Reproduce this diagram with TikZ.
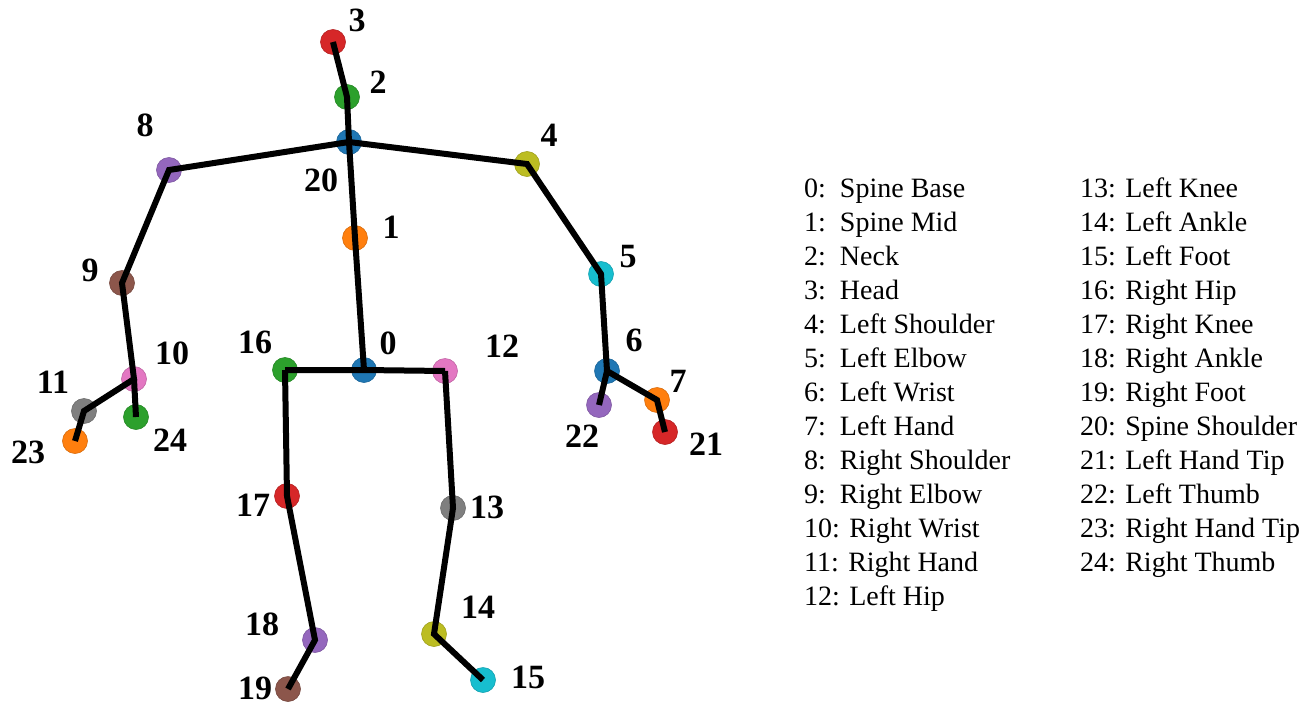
\documentclass[tikz,border=0pt]{standalone}
\usepackage{fontspec}
\setmainfont{Liberation Serif}
\definecolor{tblue}{HTML}{1F77B4}
\definecolor{torange}{HTML}{FF7F0E}
\definecolor{tgreen}{HTML}{2CA02C}
\definecolor{tred}{HTML}{D62728}
\definecolor{tpurple}{HTML}{9467BD}
\definecolor{tbrown}{HTML}{8C564B}
\definecolor{tpink}{HTML}{E377C2}
\definecolor{tgray}{HTML}{7F7F7F}
\definecolor{tolive}{HTML}{BCBD22}
\definecolor{tcyan}{HTML}{17BECF}
\begin{document}
\begin{tikzpicture}[x=1pt,y=-1pt,
  joint/.style={circle,fill=#1,draw=#1!85!black,line width=0.6pt,minimum size=25pt,inner sep=0pt},
  bone/.style={line width=6pt,black,line cap=butt,line join=miter},
  num/.style={font=\fontsize{34}{34}\selectfont\bfseries,inner sep=0pt},
  leg/.style={font=\fontsize{28}{30}\selectfont,anchor=base west,inner sep=0pt}]
\useasboundingbox (0,0) rectangle (1309,704);
% joints
\node[joint=tblue]   (j0)  at (364,370) {};
\node[joint=torange] (j1)  at (355,238) {};
\node[joint=tgreen]  (j2)  at (347,97) {};
\node[joint=tred]    (j3)  at (333,42) {};
\node[joint=tolive]  (j4)  at (527,164) {};
\node[joint=tcyan]   (j5)  at (601,274) {};
\node[joint=tblue]   (j6)  at (607,371) {};
\node[joint=torange] (j7)  at (657,400) {};
\node[joint=tpurple] (j8)  at (169,170) {};
\node[joint=tbrown]  (j9)  at (122,283) {};
\node[joint=tpink]   (j10) at (134,379) {};
\node[joint=tgray]   (j11) at (84,411) {};
\node[joint=tpink]   (j12) at (445,371) {};
\node[joint=tgray]   (j13) at (453,508) {};
\node[joint=tolive]  (j14) at (434,634) {};
\node[joint=tcyan]   (j15) at (483,680) {};
\node[joint=tgreen]  (j16) at (285,370) {};
\node[joint=tred]    (j17) at (287,496) {};
\node[joint=tpurple] (j18) at (315,640) {};
\node[joint=tbrown]  (j19) at (288,689) {};
\node[joint=tblue]   (j20) at (349,142) {};
\node[joint=tred]    (j21) at (665,432) {};
\node[joint=tpurple] (j22) at (599,405) {};
\node[joint=torange] (j23) at (75,441) {};
\node[joint=tgreen]  (j24) at (136,417) {};
% bones
\draw[bone] (j3.center) -- (j2.center) -- (j20.center) -- (j1.center) -- (j0.center);
\draw[bone] (j20.center) -- (j8.center) -- (j9.center) -- (j10.center) -- (j11.center) -- (j23.center);
\draw[bone] (j10.center) -- (j24.center);
\draw[bone] (j20.center) -- (j4.center) -- (j5.center) -- (j6.center) -- (j7.center) -- (j21.center);
\draw[bone] (j6.center) -- (j22.center);
\draw[bone] (j16.center) -- (j0.center) -- (j12.center);
\draw[bone] (j16.center) -- (j17.center) -- (j18.center) -- (j19.center);
\draw[bone] (j12.center) -- (j13.center) -- (j14.center) -- (j15.center);
% joint numbers
\node[num] (l3)  at (357,20) {3};
\node[num] (l2)  at (378,82) {2};
\node[num] (l20) at (321,180) {20};
\node[num] (l8)  at (145,125) {8};
\node[num] (l4)  at (549,135) {4};
\node[num] (l1)  at (391,227) {1};
\node[num] (l9)  at (90,270) {9};
\node[num] (l5)  at (628,257) {5};
\node[num] (l10) at (172,353) {10};
\node[num] (l11) at (53,382) {11};
\node[num] (l23) at (28,452) {23};
\node[num] (l24) at (170,440) {24};
\node[num] (l16) at (255,342) {16};
\node[num] (l0)  at (388,343) {0};
\node[num] (l12) at (502,346) {12};
\node[num] (l6)  at (634,340) {6};
\node[num] (l7)  at (678,381) {7};
\node[num] (l22) at (582,436) {22};
\node[num] (l21) at (706,444) {21};
\node[num] (l17) at (253,505) {17};
\node[num] (l13) at (487,507) {13};
\node[num] (l18) at (262,624) {18};
\node[num] (l19) at (255,688) {19};
\node[num] (l14) at (478,607) {14};
\node[num] (l15) at (528,677) {15};
% legend
\node[leg] (t0)  at (804,197) {0:~~Spine Base};
\node[leg] (t1)  at (804,231) {1:~~Spine Mid};
\node[leg] (t2)  at (804,265) {2:~~Neck};
\node[leg] (t3)  at (804,299) {3:~~Head};
\node[leg] (t4)  at (804,333) {4:~~Left Shoulder};
\node[leg] (t5)  at (804,367) {5:~~Left Elbow};
\node[leg] (t6)  at (804,401) {6:~~Left Wrist};
\node[leg] (t7)  at (804,435) {7:~~Left Hand};
\node[leg] (t8)  at (804,469) {8:~~Right Shoulder};
\node[leg] (t9)  at (804,503) {9:~~Right Elbow};
\node[leg] (t10) at (804,537) {10: Right Wrist};
\node[leg] (t11) at (804,571) {11: Right Hand};
\node[leg] (t12) at (804,605) {12: Left Hip};
\node[leg] (t13) at (1080,197) {13: Left Knee};
\node[leg] (t14) at (1080,231) {14: Left Ankle};
\node[leg] (t15) at (1080,265) {15: Left Foot};
\node[leg] (t16) at (1080,299) {16: Right Hip};
\node[leg] (t17) at (1080,333) {17: Right Knee};
\node[leg] (t18) at (1080,367) {18: Right Ankle};
\node[leg] (t19) at (1080,401) {19: Right Foot};
\node[leg] (t20) at (1080,435) {20: Spine Shoulder};
\node[leg] (t21) at (1080,469) {21: Left Hand Tip};
\node[leg] (t22) at (1080,503) {22: Left Thumb};
\node[leg] (t23) at (1080,537) {23: Right Hand Tip};
\node[leg] (t24) at (1080,571) {24: Right Thumb};
\end{tikzpicture}
\end{document}
